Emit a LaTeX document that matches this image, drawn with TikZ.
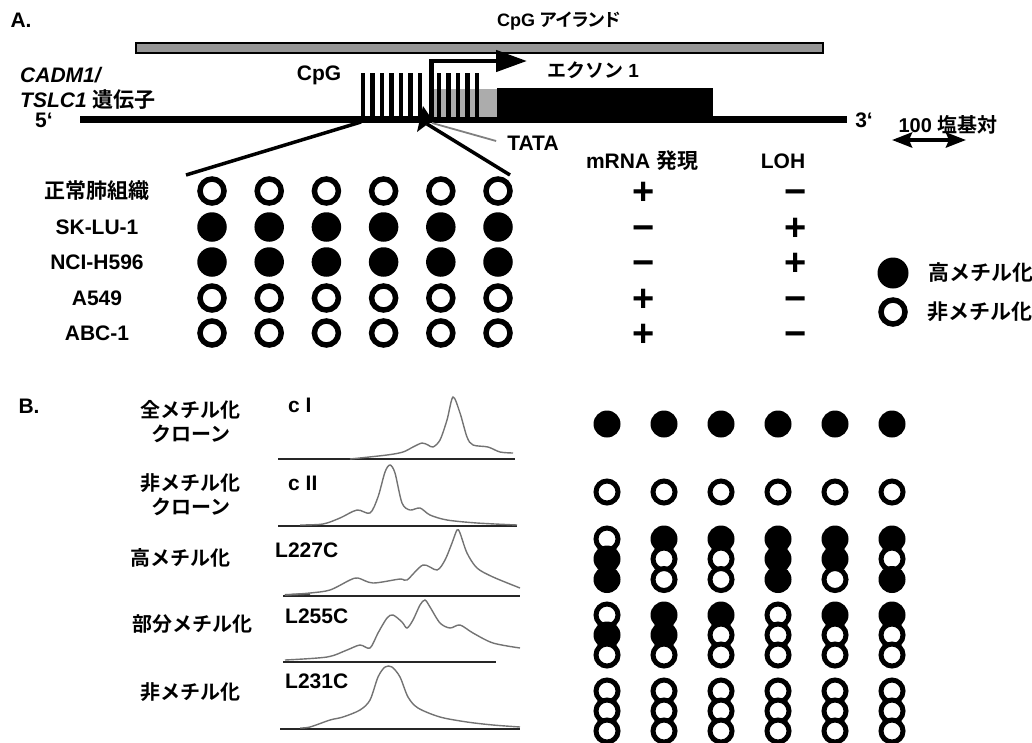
\documentclass[tikz,border=0pt]{standalone}
\usepackage{fontspec}
\setmainfont{Liberation Sans}
\newfontfamily\jpfont{Noto Sans CJK JP}[BoldFont={* Bold}]
\newfontfamily\jpprop{Noto Sans CJK JP}[BoldFont={* Bold}, RawFeature=+palt]
\usetikzlibrary{arrows.meta, positioning, shapes.geometric}
\definecolor{islandgray}{RGB}{150, 150, 150}
\definecolor{utrgray}{RGB}{172, 172, 172}
\definecolor{tracegray}{RGB}{115, 115, 115}
\newcommand{\ja}[1]{{\jpfont #1}}

\begin{document}
\begin{tikzpicture}[x=1pt, y=-1pt,
  txt/.style={font=\fontsize{21}{24}\selectfont\bfseries, inner sep=0pt},
  sign/.style={font=\fontsize{38}{40}\selectfont\bfseries, inner sep=0pt, anchor=base},
  metfill/.style={circle, fill=black, inner sep=0pt, minimum size=29.5pt},
  metopen/.style={circle, draw=black, fill=white, line width=5.5pt, inner sep=0pt, minimum size=24pt},
  metfillB/.style={circle, fill=black, inner sep=0pt, minimum size=27pt},
  metopenB/.style={circle, draw=black, fill=white, line width=5pt, inner sep=0pt, minimum size=22pt},
  zoomline/.style={line width=3.5pt},
  trace/.style={tracegray, line width=1.4pt},
  axis/.style={black!85, line width=1.5pt}]
  \useasboundingbox (0,0) rectangle (1032,742);

  % A: gene map
  \node[txt] (labA) at (21,20) {A.};
  \draw[line width=2.5pt, fill=islandgray] (136,43) rectangle (823,53);
  \node[txt, font=\fontsize{18}{22}\selectfont\bfseries, anchor=west] (island) at (497,21)
    {CpG {\jpprop アイランド}};
  \node[txt, anchor=west, font=\fontsize{21}{24}\selectfont\bfseries\itshape] (gene1) at (20,75) {CADM1/};
  \node[txt, anchor=west] (gene2) at (20,100) {\textit{TSLC1} \ja{遺伝子}};
  \node[txt] (five) at (44,120) {5‘};
  \node[txt] (three) at (864,120) {3‘};
  \node[txt] (cpg) at (319,75) {CpG};

  \draw[line width=7pt] (80,119.5) -- (847,119.5);
  \fill[utrgray] (434,89) rectangle (497,117);
  \fill (497,88) rectangle (713,123);
  \foreach \i in {0,...,6,8,9,10,11,12}
    \fill ({363+9.5*\i-2.35},73) rectangle ({363+9.5*\i+2.35},117);
  \draw[line width=4.5pt, -{Triangle[length=31pt, width=21pt]}] (431.5,118) |- (527,61);
  \node[txt, font=\fontsize{19}{22}\selectfont\bfseries] (exon) at (593,70) {\ja{エクソン} 1};

  % TATA box and zoom lines
  \fill (423,106) -- (433,121) -- (427,124.5) -- (417,132) -- cycle;
  \coordinate (tata) at (427,124);
  \coordinate (cpgL) at (361,122);
  \node[txt] (tatalab) at (533,143) {TATA};
  \draw[gray, line width=1.8pt] (432,123) -- ([xshift=-11pt, yshift=2pt]tatalab.west);
  \draw[zoomline] (cpgL) -- (186,175);
  \draw[zoomline] (510,175) -- (tata);

  \node[txt] (mrna) at (642,161) {mRNA \ja{発現}};
  \node[txt] (loh) at (783,161) {LOH};
  \node[txt, font=\fontsize{20}{24}\selectfont\bfseries] (scale) at (948,125) {100 \ja{塩基対}};
  \coordinate (sbL) at (892,140);
  \coordinate (sbR) at (966,140);
  \draw[line width=4pt, {Stealth[length=20pt, width=15pt, inset=3pt]}-{Stealth[length=20pt, width=15pt, inset=3pt]}] (sbL) -- (sbR);

  % A: methylation of lines
  \foreach \r/\name/\sty in {191/{\ja{正常肺組織}}/metopen, 227/SK-LU-1/metfill,
                              262/NCI-H596/metfill, 298/A549/metopen, 333/ABC-1/metopen} {
    \node[txt] (row\r) at (97,\r) {\name};
    \foreach \c in {0,...,5}
      \node[\sty] (a\r-\c) at ({212+57.2*\c},\r) {};
  }
  \foreach \r/\m/\l in {191/+/−, 227/−/+, 262/−/+, 298/+/−, 333/+/−} {
    \node[sign] (m\r) at (644,\r+13) {\m};
    \node[sign] (l\r) at (796,\r+13) {\l};
  }

  % legend
  \node[metfill, minimum size=31pt] (leghi) at (893,273) {};
  \node[txt, anchor=west] (leghitxt) at (928,273) {\ja{高メチル化}};
  \node[metopen] (leglo) at (893,312) {};
  \node[txt, anchor=west] (leglotxt) at (927,312) {\ja{非メチル化}};

  % B: clones
  \node[txt] (labB) at (29,406) {B.};
  \node[txt, font=\fontsize{20}{24}\selectfont\bfseries] (b1a) at (190,410) {\ja{全メチル化}};
  \node[txt, font=\fontsize{20}{24}\selectfont\bfseries] (b1b) at (191,434) {\ja{クローン}};
  \node[txt, font=\fontsize{20}{24}\selectfont\bfseries] (b2a) at (190,483) {\ja{非メチル化}};
  \node[txt, font=\fontsize{20}{24}\selectfont\bfseries] (b2b) at (191,507) {\ja{クローン}};
  \node[txt, font=\fontsize{20}{24}\selectfont\bfseries] (b3) at (180,558) {\ja{高メチル化}};
  \node[txt, font=\fontsize{20}{24}\selectfont\bfseries] (b4) at (192,624) {\ja{部分メチル化}};
  \node[txt, font=\fontsize{20}{24}\selectfont\bfseries] (b5) at (190,692) {\ja{非メチル化}};

  \node[txt, anchor=west] (cI) at (288,405) {c I};
  \node[txt, anchor=west] (cII) at (288,483) {c II};
  \node[txt, anchor=west] (L227) at (275,550) {L227C};
  \node[txt, anchor=west] (L255) at (285,616) {L255C};
  \node[txt, anchor=west] (L231) at (285,681) {L231C};

  % traces
  \draw[axis] (278,459) -- (515,459);
  \draw[trace] plot[smooth, tension=0.5] coordinates {(350,459) (387,455) (403,452) (413,447) (422,443)
    (428,445) (433,447) (440,440) (447,420) (453,397) (460,413) (467,437) (473,445) (488,447) (500,452) (513,453)};
  \draw[axis] (278,526) -- (517,526);
  \draw[trace] plot[smooth, tension=0.5] coordinates {(300,525) (323,524) (340,518) (357,510) (370,513) (378,497)
    (385,472) (390,465) (395,473) (402,503) (410,510) (420,508) (430,515) (447,520) (477,523) (517,525)};
  \draw[axis] (283,596) -- (520,596);
  \draw[line width=2pt, black!70] (285,595) -- (310,594);
  \draw[trace] plot[smooth, tension=0.5] coordinates {(285,595) (310,593) (330,590) (350,580) (358,578) (373,583)
    (400,579) (407,580) (423,565) (437,570) (445,560) (452,543) (457,530) (460,533) (467,553) (477,568) (493,577) (520,588)};
  \draw[axis] (283,662) -- (496,662);
  \draw[trace] plot[smooth, tension=0.5] coordinates {(285,660) (327,657) (347,650) (360,645) (370,648) (378,633)
    (387,618) (393,615) (402,622) (407,628) (413,620) (420,605) (425,600) (430,607) (440,623) (450,628)
    (460,625) (473,633) (493,643) (520,648)};
  \draw[axis] (280,729) -- (520,729);
  \draw[trace] plot[smooth, tension=0.5] coordinates {(300,728) (310,727) (330,720) (343,717) (360,710) (370,700)
    (378,677) (385,667) (392,667) (400,677) (408,697) (418,708) (440,717) (467,722) (493,725) (520,727)};

  % B: methylation of clones
  \foreach \c in {0,...,5} {
    \node[metfillB] (cI-\c) at ({607+57*\c},424) {};
    \node[metopenB] (cII-\c) at ({607+57*\c},492) {};
  }
  \foreach \c/\p/\q/\s in {0/metopenB/metfillB/metfillB, 1/metfillB/metopenB/metopenB,
                           2/metfillB/metopenB/metopenB, 3/metfillB/metfillB/metfillB,
                           4/metfillB/metfillB/metopenB, 5/metfillB/metopenB/metfillB} {
    \node[\p] (h1-\c) at ({607+57*\c},539) {};
    \node[\q] (h2-\c) at ({607+57*\c},559) {};
    \node[\s] (h3-\c) at ({607+57*\c},579.5) {};
  }
  \foreach \c/\p/\q/\s in {0/metopenB/metfillB/metopenB, 1/metfillB/metfillB/metopenB,
                           2/metfillB/metopenB/metopenB, 3/metopenB/metopenB/metopenB,
                           4/metfillB/metopenB/metopenB, 5/metfillB/metopenB/metopenB} {
    \node[\p] (p1-\c) at ({607+57*\c},615) {};
    \node[\q] (p2-\c) at ({607+57*\c},635) {};
    \node[\s] (p3-\c) at ({607+57*\c},655) {};
  }
  \foreach \c in {0,...,5} {
    \node[metopenB] (u1-\c) at ({607+57*\c},691) {};
    \node[metopenB] (u2-\c) at ({607+57*\c},711) {};
    \node[metopenB] (u3-\c) at ({607+57*\c},731) {};
  }
\end{tikzpicture}
\end{document}
